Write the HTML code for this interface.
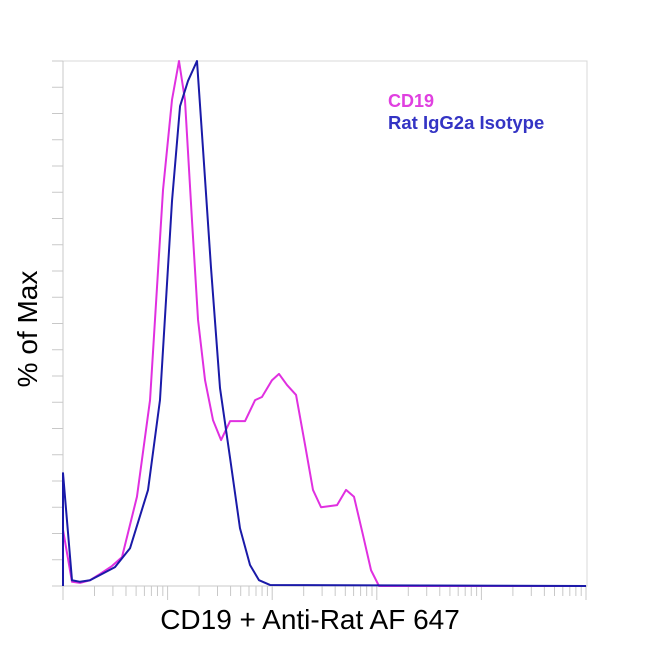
<!DOCTYPE html>
<html><head><meta charset="utf-8"><style>
html,body{margin:0;padding:0;background:#fff;width:650px;height:650px;overflow:hidden}
svg{display:block;font-family:"Liberation Sans",Arial,sans-serif}
</style></head><body>
<svg id="chart" width="650" height="650" viewBox="0 0 650 650">
<rect x="63" y="61" width="524" height="525" fill="none" stroke="#d8d8d8" stroke-width="1"/>
<g id="yticks"></g>
<g id="xticks"></g>
<line x1="63" y1="61" x2="63" y2="586" stroke="#c8c8c8"/>
<line x1="63" y1="586" x2="587" y2="586" stroke="#c8c8c8"/>
<g id="series"></g>
<text x="388" y="107" font-size="18" font-weight="bold" fill="#e040e0">CD19</text>
<text x="388" y="129" font-size="18.5" font-weight="bold" fill="#3434c4">Rat IgG2a Isotype</text>
<text x="310" y="629" font-size="28" text-anchor="middle" fill="#000">CD19 + Anti-Rat AF 647</text>
<text transform="translate(37,329) rotate(-90)" font-size="28" text-anchor="middle" fill="#000">% of Max</text>
</svg>
<script>
// x in decades (log10), y in % of max
const cd19X = [0,0.086,0.163,0.258,0.354,0.468,0.564,0.707,0.832,0.956,1.042,1.109,1.166,1.233,1.291,1.358,1.434,1.511,1.597,1.740,1.836,1.902,1.998,2.065,2.141,2.228,2.314,2.390,2.467,2.620,2.706,2.782,2.868,2.945,3.021,5];
const cd19Y = [10.7,0.8,0.6,1.1,2.3,3.8,5.5,17.0,35.4,75.4,92.6,100,92.6,69.7,50.7,39.2,31.6,27.8,31.4,31.4,35.4,36.0,39.2,40.4,38.3,36.4,26.9,18.3,15.0,15.4,18.3,17.0,9.7,3.0,0,0];
const isoX = [0,0,0.086,0.163,0.258,0.354,0.497,0.641,0.813,0.927,1.042,1.119,1.195,1.281,1.338,1.415,1.501,1.597,1.692,1.788,1.874,1.979,5];
const isoY = [0,21.5,1.1,0.8,1.1,2.1,3.6,7.2,18.3,35.4,73.3,91.4,96.2,100,83.4,60.6,37.7,24.4,11.0,4.0,1.1,0.2,0];
const decades = [0,1,2,3,4,5];
const yTickCount = 20;

const L=63,R=586,T=61,B=586;
const xs = u => L + u*(R-L)/5;
const ys = p => B - p*(B-T)/100;
const NS='http://www.w3.org/2000/svg';

const yt=document.getElementById('yticks');
for(let i=0;i<=yTickCount;i++){
  const y=T+i*(B-T)/yTickCount;
  const ln=document.createElementNS(NS,'line');
  ln.setAttribute('x1',52);ln.setAttribute('x2',63);
  ln.setAttribute('y1',y);ln.setAttribute('y2',y);
  ln.setAttribute('stroke','#c8c8c8');
  
  
  yt.appendChild(ln);
}
const xt=document.getElementById('xticks');
for(let d=0;d<decades.length;d++){
  const base=decades[d];
  const mk=(u,len)=>{
    const ln=document.createElementNS(NS,'line');
    ln.setAttribute('x1',xs(u));ln.setAttribute('x2',xs(u));
    ln.setAttribute('y1',586);ln.setAttribute('y2',586+len);
    ln.setAttribute('stroke','#c8c8c8');
    
    
    xt.appendChild(ln);
  };
  mk(base,14);
  if(d<decades.length-1) for(let k=2;k<=9;k++) mk(base+Math.log10(k),10);
}
function draw(X,Y,color,name){
  const pl=document.createElementNS(NS,'polyline');
  pl.setAttribute('points',X.map((u,i)=>xs(u)+','+ys(Y[i])).join(' '));
  pl.setAttribute('fill','none');pl.setAttribute('stroke',color);
  pl.setAttribute('stroke-width','2');pl.setAttribute('stroke-linejoin','round');
  
  
  document.getElementById('series').appendChild(pl);
}
draw(cd19X,cd19Y,'#e030e0','cd19-histogram-line');
draw(isoX,isoY,'#1a1aa8','isotype-histogram-line');
</script>
</body></html>
